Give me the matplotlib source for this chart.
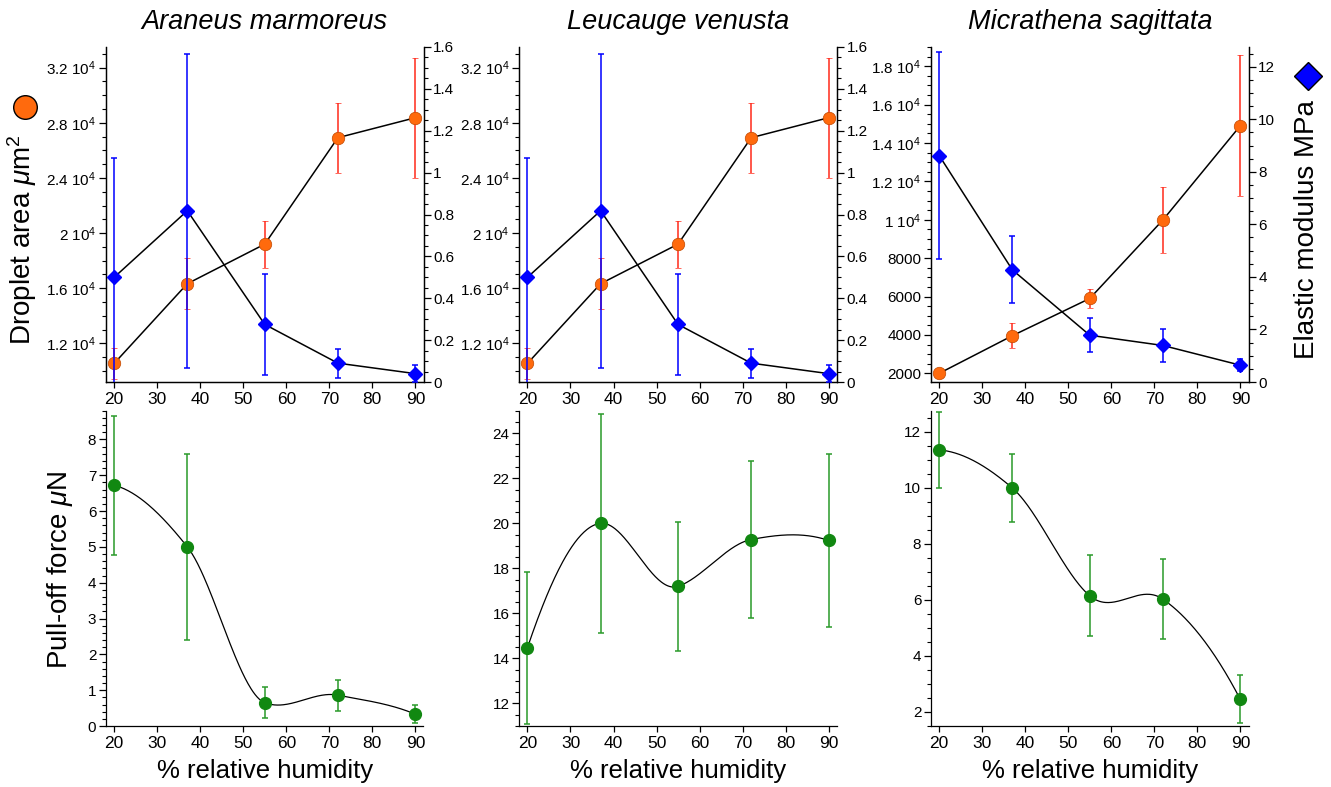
# Droplet area / elastic modulus / pull-off force vs humidity, three species
import numpy as np
import matplotlib
matplotlib.use('Agg')
from matplotlib import pyplot as plt
from matplotlib.lines import Line2D
from matplotlib.ticker import MultipleLocator, FuncFormatter

plt.rcParams['font.family'] = ['Liberation Sans', 'DejaVu Sans']
plt.rcParams['mathtext.fontset'] = 'custom'
plt.rcParams['mathtext.rm'] = 'Liberation Sans'
plt.rcParams['mathtext.it'] = 'Liberation Sans:italic'

species = ['Araneus marmoreus', 'Leucauge venusta', 'Micrathena sagittata']
rh = [20, 37, 55, 72, 90]

# droplet area (um^2) and error
area_am = [10550, 16330, 19200, 26920, 28370]
area_am_err = [1100, 1870, 1700, 2550, 4340]
area_lv = [10550, 16330, 19200, 26920, 28370]
area_lv_err = [1100, 1870, 1700, 2550, 4340]
area_ms = [2000, 3960, 5900, 9990, 14900]
area_ms_err = [250, 650, 480, 1700, 3670]

# elastic modulus (MPa) and error
mod_am = [0.50, 0.818, 0.275, 0.09, 0.04]
mod_am_err = [0.57, 0.75, 0.24, 0.07, 0.04]
mod_lv = [0.50, 0.818, 0.275, 0.09, 0.04]
mod_lv_err = [0.57, 0.75, 0.24, 0.07, 0.04]
mod_ms = [8.62, 4.27, 1.78, 1.39, 0.64]
mod_ms_err = [3.95, 1.27, 0.64, 0.62, 0.22]

# pull-off force (uN) and error
force_am = [6.72, 5.0, 0.65, 0.86, 0.33]
force_am_err = [1.94, 2.6, 0.44, 0.43, 0.25]
force_lv = [14.48, 20.0, 17.2, 19.28, 19.24]
force_lv_err = [3.37, 4.87, 2.88, 3.5, 3.85]
force_ms = [11.36, 10.0, 6.15, 6.03, 2.45]
force_ms_err = [1.36, 1.23, 1.45, 1.42, 0.86]

areas = [(area_am, area_am_err), (area_lv, area_lv_err), (area_ms, area_ms_err)]
mods = [(mod_am, mod_am_err), (mod_lv, mod_lv_err), (mod_ms, mod_ms_err)]
forces = [(force_am, force_am_err), (force_lv, force_lv_err), (force_ms, force_ms_err)]

area_lim = [(9200, 33500), (9200, 33500), (1550, 19000)]
area_major = [4000, 4000, 2000]
area_minor = [1000, 1000, 500]
mod_lim = [(0, 1.6), (0, 1.6), (0, 12.75)]
mod_major = [0.2, 0.2, 2]
mod_minor = [0.05, 0.05, 0.5]
force_lim = [(0, 8.8), (11, 25), (1.5, 12.76)]
force_major = [1, 2, 2]
force_minor = [0.2, 0.5, 0.5]

ORANGE = '#ff6a0d'
BLUE = '#0000ff'
GREEN = '#118811'


def akima(x, y, xs):
    # Akima spline through the points
    x = np.asarray(x, float); y = np.asarray(y, float)
    n = len(x); h = np.diff(x)
    m = np.diff(y) / h
    a0 = 2 * m[0] - m[1]; a1 = 2 * a0 - m[0]
    b0 = 2 * m[-1] - m[-2]; b1 = 2 * b0 - m[-1]
    mm = np.concatenate([[a1, a0], m, [b0, b1]])
    t = np.zeros(n)
    for i in range(n):
        w1 = abs(mm[i + 3] - mm[i + 2]); w2 = abs(mm[i + 1] - mm[i])
        if w1 + w2 == 0:
            t[i] = 0.5 * (mm[i + 1] + mm[i + 2])
        else:
            t[i] = (w1 * mm[i + 1] + w2 * mm[i + 2]) / (w1 + w2)
    idx = np.clip(np.searchsorted(x, xs) - 1, 0, n - 2)
    hh = h[idx]
    s = (xs - x[idx]) / hh
    h00 = 2 * s ** 3 - 3 * s ** 2 + 1
    h10 = s ** 3 - 2 * s ** 2 + s
    h01 = -2 * s ** 3 + 3 * s ** 2
    h11 = s ** 3 - s ** 2
    return h00 * y[idx] + h10 * hh * t[idx] + h01 * y[idx + 1] + h11 * hh * t[idx + 1]


def area_fmt(v, pos):
    if v >= 10000:
        return '%g 10$^4$' % (v / 1e4)
    return '%d' % v


def style(ax, right=False):
    ax.tick_params(which='major', direction='out', length=5, width=0.9, labelsize=11, pad=2)
    ax.tick_params(which='minor', direction='out', length=2.8, width=0.8)
    ax.tick_params(axis='x', which='major', labelsize=12.5, length=4.5, pad=3)
    for s in ax.spines.values():
        s.set_linewidth(0.9)
    ax.spines['top'].set_visible(False)
    if not right:
        ax.spines['right'].set_visible(False)


fig = plt.figure(figsize=(13.31, 7.87), dpi=100)
W, H = 1331.0, 787.0
lefts = [106, 519.3, 931]
width = 317.5

for i in range(3):
    l = lefts[i] / W
    # top row
    ax = fig.add_axes([l, 1 - 382 / H, width / W, (382 - 47) / H])
    ax2 = ax.twinx()
    a, ae = areas[i]
    m, me = mods[i]
    ax.plot(rh, a, color='black', lw=1.1, zorder=2)
    ax.errorbar(rh, a, yerr=ae, fmt='o', color=ORANGE, mec='#c04800', mew=0.5, ms=9,
                ecolor='#ff2a1a', elinewidth=1.1, capsize=2.5, capthick=1.1, zorder=3)
    ax2.plot(rh, m, color='black', lw=1.1, zorder=2)
    ax2.errorbar(rh, m, yerr=me, fmt='D', color=BLUE, ms=7.5, ecolor=BLUE,
                 elinewidth=1.1, capsize=2.5, capthick=1.1, zorder=3)
    ax.set_xlim(18.1, 91.9)
    ax.set_ylim(*area_lim[i])
    ax2.set_ylim(*mod_lim[i])
    ax.xaxis.set_major_locator(MultipleLocator(10))
    ax.yaxis.set_major_locator(MultipleLocator(area_major[i]))
    ax.yaxis.set_minor_locator(MultipleLocator(area_minor[i]))
    ax.yaxis.set_major_formatter(FuncFormatter(area_fmt))
    ax2.yaxis.set_major_locator(MultipleLocator(mod_major[i]))
    ax2.yaxis.set_minor_locator(MultipleLocator(mod_minor[i]))
    ax2.yaxis.set_major_formatter(FuncFormatter(lambda v, p: '%g' % round(v, 3)))
    style(ax, right=True)
    style(ax2, right=True)
    fig.text((lefts[i] + width / 2) / W, 1 - 22 / H, species[i], ha='center', va='center',
             fontsize=19.5, style='italic')

    # bottom row
    bx = fig.add_axes([l, 1 - 726 / H, width / W, (726 - 410.7) / H])
    f, fe = forces[i]
    xs = np.linspace(rh[0], rh[-1], 300)
    bx.plot(xs, akima(rh, f, xs), color='black', lw=0.9, zorder=2)
    bx.errorbar(rh, f, yerr=fe, fmt='o', color=GREEN, ms=8.5, ecolor='#2a9a2a',
                elinewidth=1.1, capsize=2.5, capthick=1.1, zorder=3)
    bx.set_xlim(18.1, 91.9)
    bx.set_ylim(*force_lim[i])
    bx.xaxis.set_major_locator(MultipleLocator(10))
    bx.yaxis.set_major_locator(MultipleLocator(force_major[i]))
    bx.yaxis.set_minor_locator(MultipleLocator(force_minor[i]))
    style(bx)
    fig.text((lefts[i] + width / 2) / W, 1 - 771 / H, '% relative humidity', ha='center',
             va='center', fontsize=18.5)

fig.text(22 / W, 1 - 240 / H, r'Droplet area $\mu$m$^2$', rotation=90, ha='center',
         va='center', fontsize=20)
fig.add_artist(Line2D([25 / W], [1 - 107 / H], transform=fig.transFigure, marker='o',
                      ms=17, mfc=ORANGE, mec='black', mew=1.0, ls='none'))
fig.text(1307 / W, 1 - 230 / H, 'Elastic modulus MPa', rotation=90, ha='center',
         va='center', fontsize=20)
fig.add_artist(Line2D([1308 / W], [1 - 76 / H], transform=fig.transFigure, marker='D',
                      ms=14, mfc=BLUE, mec='black', mew=1.0, ls='none'))
fig.text(60 / W, 1 - 570 / H, r'Pull-off force $\mu$N', rotation=90, ha='center',
         va='center', fontsize=20)

plt.savefig('out.png', dpi=100)
